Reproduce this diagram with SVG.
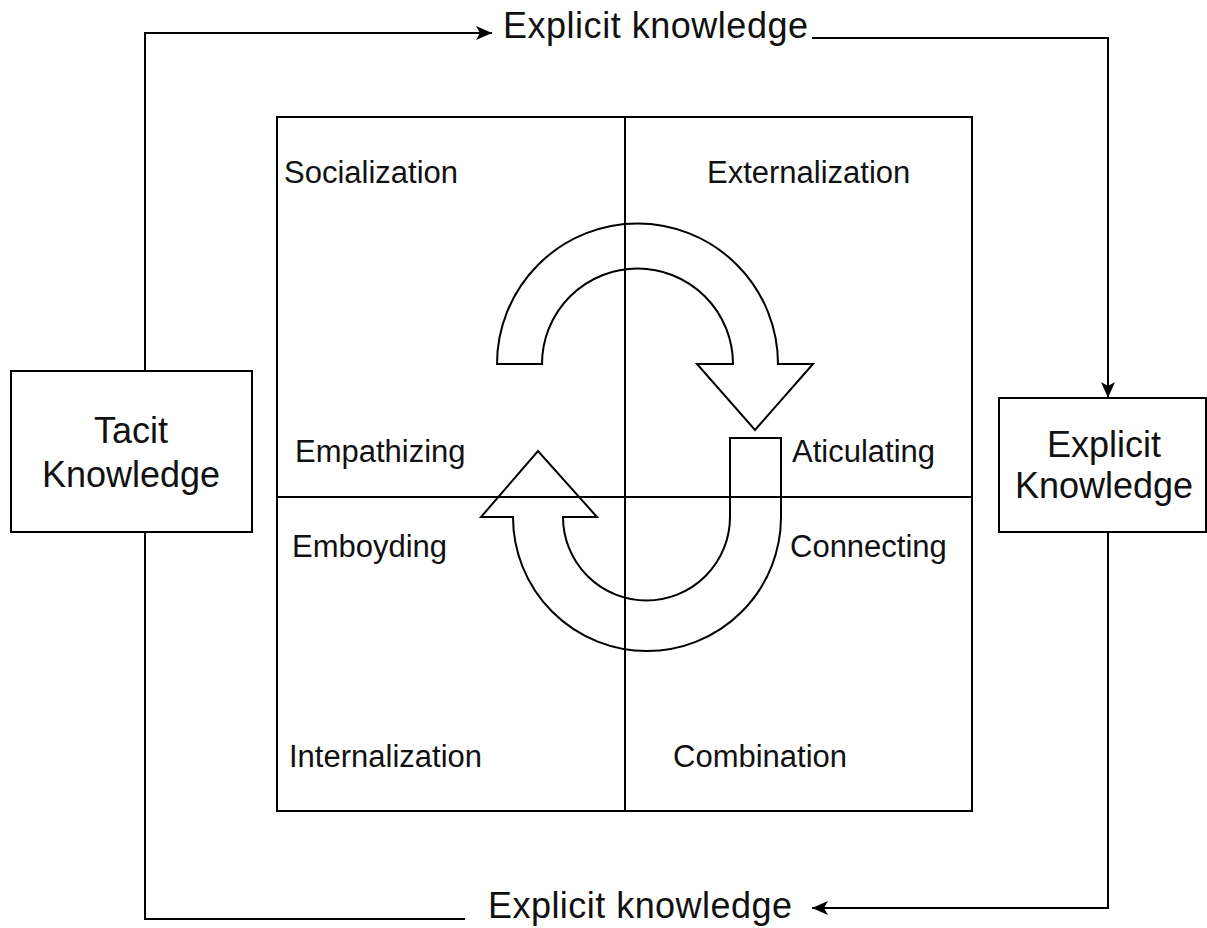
<svg xmlns="http://www.w3.org/2000/svg" width="1207" height="928" viewBox="0 0 1207 928">
<style>
.ln{fill:none;stroke:#000;stroke-width:2}
.box{fill:#fff;stroke:#000;stroke-width:2}
.arr{fill:#fff;stroke:#000;stroke-width:2;stroke-linejoin:miter}
.t{font-family:"Liberation Sans",Arial,sans-serif;fill:#111;font-size:31px}
.big{font-family:"Liberation Sans",Arial,sans-serif;fill:#111;font-size:36px}
</style>
<defs>
<marker id="ah" viewBox="0 0 16 14" refX="16" refY="7" markerWidth="16" markerHeight="14" markerUnits="userSpaceOnUse" orient="auto">
<path d="M0,0 L16,7 L0,14 L4,7 Z" fill="#000"/>
</marker>
</defs>
<rect width="1207" height="928" fill="#fff"/>
<g id="connectors">
<path class="ln" d="M145,371 V33 H492" marker-end="url(#ah)"/>
<path class="ln" d="M812,38 H1108 V398" marker-end="url(#ah)"/>
<path class="ln" d="M1108,532 V908 H812" marker-end="url(#ah)"/>
<path class="ln" d="M465,919 H145 V532"/>
</g>
<text class="big" x="503" y="38" textLength="305">Explicit knowledge</text>
<text class="big" x="488" y="918" textLength="304">Explicit knowledge</text>
<g id="matrix">
<rect class="box" x="277" y="117" width="695" height="694"/>
<path id="arrow-top" class="arr" d="M497,364 A140.5,140.5 0 0 1 778,364 L813,364 L755,430 L697,364 L733,364 A95.5,95.5 0 0 0 542,364 Z"/>
<path id="arrow-bottom" class="arr" d="M730,438 L781,438 L781,517 A134,134 0 0 1 513,517 L481,517 L538,451 L597,517 L563,517 A83.5,83.5 0 0 0 730,517 Z"/>
<line class="ln" x1="625" y1="117" x2="625" y2="811"/>
<line class="ln" x1="277" y1="497" x2="972" y2="497"/>
<text class="t" x="284" y="183">Socialization</text>
<text class="t" x="707" y="183">Externalization</text>
<text class="t" x="295" y="462">Empathizing</text>
<text class="t" x="792" y="462">Aticulating</text>
<text class="t" x="292" y="557">Emboyding</text>
<text class="t" x="790" y="557">Connecting</text>
<text class="t" x="289" y="767">Internalization</text>
<text class="t" x="673" y="767">Combination</text>
</g>
<g id="tacit">
<rect class="box" x="11" y="371" width="241" height="161"/>
<text class="big" x="131" y="443" text-anchor="middle">Tacit</text>
<text class="big" x="131" y="487" text-anchor="middle">Knowledge</text>
</g>
<g id="explicit">
<rect class="box" x="999" y="398" width="207" height="134"/>
<text class="big" x="1104" y="457" text-anchor="middle">Explicit</text>
<text class="big" x="1104" y="498" text-anchor="middle">Knowledge</text>
</g>
</svg>
